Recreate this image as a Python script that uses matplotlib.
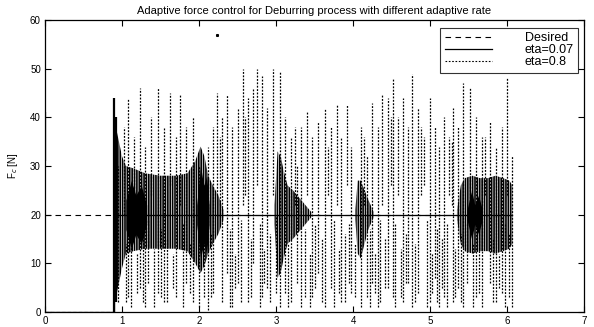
import matplotlib
matplotlib.use('Agg')
import matplotlib.pyplot as plt
from matplotlib.lines import Line2D

plt.rcParams['font.family'] = ['Liberation Sans', 'DejaVu Sans']
plt.rcParams['hatch.linewidth'] = 1.2

# Desired force and time span
desired_t = [0.0, 6.07]
desired_v = [20, 20]

# eta=0.07 : flat parts of the response
flat_t = [0.0, 0.9, 0.9, 6.07]
flat_v = [0, 0, 20, 20]

# eta=0.07 : single tall strokes
spike_t = [0.0, 0.90, 0.92]
spike_lo = [31, 0, 2]
spike_hi = [41, 44, 40]

# eta=0.07 : oscillation envelopes of the bursts
b1_t = [0.92, 0.96, 1.00, 1.05, 1.15, 1.30, 1.50, 1.70, 1.85, 1.95, 2.02, 2.07, 2.12, 2.18, 2.25, 2.32]
b1_hi = [38, 35, 32, 30, 29.5, 28.5, 28, 28, 28.5, 31, 34, 32, 28, 26, 24, 21]
b1_lo = [3, 6, 9, 12, 12.5, 13, 13, 13, 12.5, 10, 8, 9.5, 12, 14, 16, 19]

b2_t = [2.98, 3.02, 3.06, 3.10, 3.15, 3.22, 3.30, 3.38, 3.46]
b2_hi = [22, 33, 32, 29, 26, 25, 23.5, 22, 20.5]
b2_lo = [18, 7, 8, 11, 14, 15, 16.5, 18, 19.5]

b3_t = [4.03, 4.06, 4.10, 4.15, 4.20, 4.27]
b3_hi = [21, 27, 27, 25, 23, 20.5]
b3_lo = [19, 12, 11, 14, 17, 19.5]

b4_t = [5.35, 5.40, 5.45, 5.55, 5.65, 5.75, 5.85, 5.95, 6.03, 6.07]
b4_hi = [21, 26, 27.5, 28, 27.5, 27.5, 28, 27.5, 27, 26]
b4_lo = [19, 14, 12.5, 12, 12.5, 12.5, 12, 12.5, 13, 14]

# eta=0.07 : dark cores inside the bursts
c1_t = [1.05, 1.12, 1.18, 1.25, 1.32]
c1_hi = [23, 27, 24, 26, 22]
c1_lo = [17, 13, 16, 14, 18]
c2_t = [1.97, 2.02, 2.06, 2.10, 2.13]
c2_hi = [22, 30, 26, 28, 22]
c2_lo = [18, 11, 14, 12, 18]
c3_t = [5.48, 5.54, 5.58, 5.63, 5.68]
c3_hi = [21, 25, 22, 24, 21]
c3_lo = [19, 15, 18, 16, 19]

# eta=0.8 : vertical dotted strokes
dot_t = [0.95, 1.02, 1.08, 1.15, 1.23, 1.30, 1.38, 1.47, 1.55, 1.62, 1.70, 1.75, 1.83,
         1.92, 2.00, 2.06, 2.12, 2.18, 2.23, 2.30, 2.36, 2.43, 2.50, 2.57, 2.63, 2.70,
         2.75, 2.82, 2.88, 2.96, 3.05, 3.12, 3.20, 3.27, 3.33, 3.40, 3.47, 3.55, 3.64,
         3.71, 3.79, 3.85, 3.92, 3.98, 4.10, 4.18, 4.25, 4.32, 4.38, 4.45, 4.52, 4.58,
         4.65, 4.72, 4.77, 4.85, 4.92, 5.00, 5.06, 5.12, 5.18, 5.25, 5.30, 5.36, 5.43,
         5.52, 5.60, 5.68, 5.78, 5.86, 5.93, 6.00, 6.06]
dot_hi = [30, 38, 44, 36, 46, 34, 40, 46, 38, 45, 36, 44.5, 38,
          40, 30, 26, 34, 38, 45, 40, 44.5, 38, 42, 50, 44, 46,
          50, 48.5, 42, 50, 49.5, 40, 36, 30, 38, 41, 36, 39, 42,
          38, 42.5, 36, 42.5, 34, 38, 32, 43, 38, 44.5, 44, 48, 40,
          44, 38, 49, 42, 36, 44, 38, 34, 40, 36, 42, 38, 47,
          46, 40, 36, 39, 34, 38, 48, 32]
dot_lo = [2, 20, 3, 22, 5, 1, 24, 4, 2, 26, 3, 22, 6,
          2, 1, 3, 0.5, 4, 24, 2, 8, 1, 6, 22, 2, 10,
          26, 3, 5, 24, 1, 4, 2, 6, 1, 24, 3, 8, 1,
          5, 22, 2, 26, 4, 1, 3, 6, 1, 22, 5, 3, 24,
          2, 6, 1, 4, 26, 2, 7, 1, 3, 24, 2, 5, 1,
          22, 3, 1, 6, 2, 4, 24, 1]
dot2_t = [1.05, 1.12, 1.19, 1.27, 1.34, 1.42, 1.51, 1.58, 1.66, 1.79,
          1.88, 2.15, 2.27, 2.40, 2.47, 2.54, 2.60, 2.67, 2.79, 2.85,
          2.92, 3.00, 3.16, 3.24, 3.37, 3.44, 3.51, 3.60, 3.68, 3.75,
          3.82, 3.89, 3.95, 4.02, 4.14, 4.22, 4.29, 4.35, 4.42, 4.49,
          4.55, 4.62, 4.69, 4.81, 4.88, 4.96, 5.03, 5.09, 5.15, 5.22,
          5.28, 5.33, 5.40, 5.48, 5.56, 5.64, 5.72, 5.82, 5.90, 5.97, 6.03]
dot2_lo = [2, 1, 4, 2, 6, 1, 3, 2, 5, 1,
           4, 3, 22, 1, 5, 2, 24, 3, 1, 6,
           2, 4, 1, 22, 3, 1, 5, 2, 24, 1,
           4, 2, 6, 3, 22, 1, 4, 2, 5, 26,
           1, 3, 6, 2, 24, 1, 4, 2, 5, 1,
           22, 3, 2, 6, 1, 4, 24, 2, 5, 1, 3]
dot2_hi = [14, 18, 12, 16, 19, 13, 17, 15, 12, 18,
           14, 16, 36, 17, 12, 19, 40, 15, 18, 13,
           16, 20, 14, 38, 17, 12, 18, 15, 34, 19,
           13, 16, 18, 14, 36, 17, 12, 19, 15, 40,
           18, 13, 16, 14, 38, 19, 12, 17, 15, 18,
           35, 13, 16, 18, 14, 17, 36, 15, 12, 18, 16]
pre_t = [0.0, 0.9]
pre_v = [0, 0]
pts_t = [2.23]
pts_v = [57]

fig = plt.figure(figsize=(5.94, 3.27), dpi=100)
ax = fig.add_axes([0.0758, 0.0459, 0.9074, 0.893])

# eta=0.8
dot_style = [(0, (1.5, 1.2))]
ax.vlines(dot_t, dot_lo, dot_hi, colors='black', linewidth=0.9, linestyles=dot_style)
ax.vlines(dot2_t, dot2_lo, dot2_hi, colors='black', linewidth=0.9, linestyles=dot_style)
ax.plot(pre_t, pre_v, color='black', lw=0.8, ls=(0, (3, 2)))
ax.plot(pts_t, pts_v, 's', color='black', ms=1.2)

# eta=0.07
for t, lo, hi in [(b1_t, b1_lo, b1_hi), (b2_t, b2_lo, b2_hi),
                  (b3_t, b3_lo, b3_hi), (b4_t, b4_lo, b4_hi)]:
    ax.fill_between(t, lo, hi, facecolor='none', edgecolor='black',
                    hatch='|||||||', linewidth=0)
for t, lo, hi in [(c1_t, c1_lo, c1_hi), (c2_t, c2_lo, c2_hi), (c3_t, c3_lo, c3_hi)]:
    ax.fill_between(t, lo, hi, color='black', linewidth=0)
ax.vlines(spike_t, spike_lo, spike_hi, colors='black', linewidth=1.6)
ax.plot(flat_t, flat_v, color='black', lw=0.9)

# desired
ax.plot(desired_t, desired_v, color='black', lw=0.8, ls=(0, (5, 4)))

ax.set_xlim(0, 7)
ax.set_ylim(0, 60)
ax.set_xticks(range(0, 8))
ax.set_yticks(range(0, 61, 10))
ax.tick_params(direction='in', top=True, right=True, length=4, width=0.8,
               labelsize=7, pad=3)
for s in ax.spines.values():
    s.set_linewidth(0.9)

ax.set_title('Adaptive force control for Deburring process with different adaptive rate',
             fontsize=8, pad=4)
ax.set_ylabel('F$_c$ [N]', fontsize=7, labelpad=7)

handles = [Line2D([], [], color='black', lw=0.8, ls=(0, (5, 4))),
           Line2D([], [], color='black', lw=0.9),
           Line2D([], [], color='black', lw=0.8, ls=(0, (1.5, 1.5)))]
leg = ax.legend(handles, ['Desired', 'eta=0.07', 'eta=0.8'], loc='upper right',
                bbox_to_anchor=(0.989, 0.973), fontsize=9, frameon=True,
                fancybox=False, handlelength=3.8, handletextpad=2.6,
                borderpad=0.35, labelspacing=0.0, borderaxespad=0)
leg.get_frame().set_edgecolor('black')
leg.get_frame().set_linewidth(0.8)

fig.savefig('out.png', dpi=100)
